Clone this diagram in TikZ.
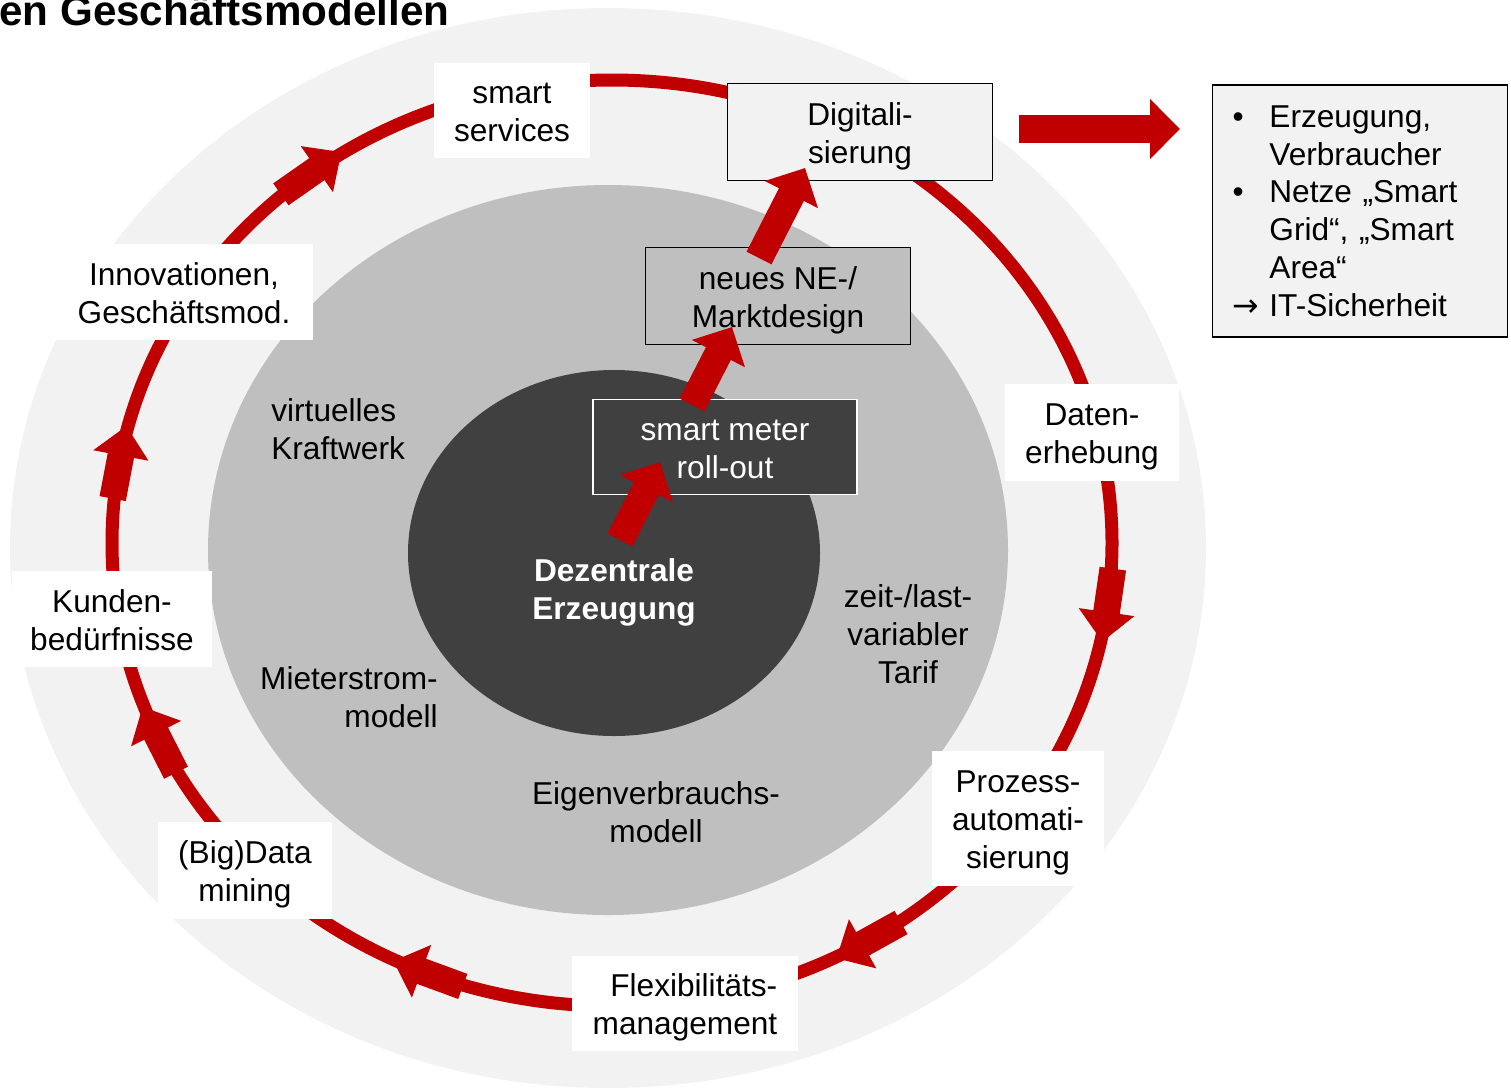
\documentclass[tikz,border=0pt]{standalone}
\usepackage{fontspec}
\setmainfont{Liberation Sans}
\newfontfamily\symbolschrift{DejaVu Sans}
\usetikzlibrary{arrows.meta,decorations.markings}
\definecolor{tured}{RGB}{192,0,0}
\definecolor{hellgrau}{RGB}{242,242,242}
\definecolor{mittelgrau}{RGB}{191,191,191}
\definecolor{dunkelgrau}{RGB}{64,64,64}
\newcommand{\ringspitze}{%
  \fill[tured] (-21pt,-7.6pt) rectangle (5pt,7.6pt);
  \fill[tured] (4pt,-16pt) -- (21pt,0pt) -- (4pt,16pt) -- cycle;}
\tikzset{
  schrift/.style={font=\fontsize{18pt}{21.5pt}\selectfont, align=center, inner sep=0pt},
  zeilen/.style={execute at begin node={\rule{0pt}{#1}},
                 execute at end node={\rule[-0.212em]{0pt}{0pt}}},
  zeilen/.default=39.5pt,
  feld/.style={schrift, zeilen, fill=white},
  kasten/.style={schrift, draw=black, line width=1pt},
  stufe/.style={kasten, zeilen},
  ringlinie/.style={tured, line width=7.4pt},
  pfeil/.style={tured, line width=15.9pt, -{Triangle[width=33pt,length=17pt]}},
}
\begin{document}
\begin{tikzpicture}[x=0.02cm, y=-0.02cm]
\useasboundingbox (0,0) rectangle (1511,1090);
% Kreise
\fill[hellgrau] (608,548) ellipse [x radius=598, y radius=540];
\fill[mittelgrau] (608,550) ellipse [x radius=400, y radius=365];
\fill[dunkelgrau] (614,553) ellipse [x radius=206, y radius=183];
% Kreislauf mit Pfeilen
\draw[ringlinie, postaction={decorate}, decoration={markings,
    mark=at position 0.0206 with {\ringspitze},
    mark=at position 0.1615 with {\ringspitze},
    mark=at position 0.3120 with {\ringspitze},
    mark=at position 0.4325 with {\ringspitze},
    mark=at position 0.5268 with {\ringspitze},
    mark=at position 0.6443 with {\ringspitze}}]
  (1112,543) arc[start angle=0, end angle=360, x radius=500, y radius=463] -- cycle;

\node[anchor=base west, inner sep=0pt, font=\bfseries\fontsize{24pt}{28pt}\selectfont] (titel) at (-1,25) {en Geschäftsmodellen};

% Felder auf dem Ring
\node[feld, minimum width=3.12cm, minimum height=1.90cm] (services) at (512,110) {smart\\services};
\node[feld, minimum width=5.16cm, minimum height=1.92cm] (innov) at (184,292) {Innovationen,\\Geschäftsmod.};
\node[feld, minimum width=4.02cm, minimum height=1.92cm] (kunden) at (112,619) {Kunden-\\bedürfnisse};
\node[feld, minimum width=3.48cm, minimum height=1.94cm] (bigdata) at (245,870) {(Big)Data\\mining};
\node[feld, align=right, minimum width=4.52cm, minimum height=1.90cm] (flex) at (685,1003) {Flexibilitäts-\\management};
\node[feld, zeilen=61pt, minimum width=3.46cm, minimum height=2.70cm] (prozess) at (1018,818) {Prozess-\\automati-\\sierung};
\node[feld, minimum width=3.50cm, minimum height=1.94cm] (daten) at (1092,432) {Daten-\\erhebung};

% Stufen
\node[stufe, fill=hellgrau, minimum width=5.30cm, minimum height=1.94cm] (digit) at (860,132) {Digitali-\\sierung};
\node[stufe, fill=mittelgrau, minimum width=5.30cm, minimum height=1.94cm] (markt) at (778,296) {neues NE-/\\Marktdesign};
\node[stufe, fill=dunkelgrau, draw=white, text=white, minimum width=5.28cm, minimum height=1.90cm] (zaehler) at (725,447) {smart meter\\roll-out};
\node[schrift, text=white, font=\bfseries\fontsize{18pt}{21.5pt}\selectfont] (kern) at (614,592) {Dezentrale\\Erzeugung};

% Geschaeftsmodelle
\node[schrift, align=left, anchor=west] (vkw) at (271,429) {virtuelles\\Kraftwerk};
\node[schrift, align=right, anchor=east] (mieter) at (438,697) {Mieterstrom-\\modell};
\node[schrift] (eigen) at (656,812) {Eigenverbrauchs-\\modell};
\node[schrift] (tarif) at (908,634) {zeit-/last-\\variabler\\Tarif};

% Liste rechts
\node[kasten, fill=hellgrau, align=left, text width=5.1cm, inner xsep=0.4cm, minimum height=5.04cm] (liste) at (1360,211)
  {\makebox[21pt][l]{\textbullet}Erzeugung,\\
   \hspace*{21pt}Verbraucher\\
   \makebox[21pt][l]{\textbullet}Netze „Smart\\
   \hspace*{21pt}Grid“, „Smart\\
   \hspace*{21pt}Area“\\
   \makebox[21pt][l]{\symbolschrift →}IT-Sicherheit};

% Pfeile
\coordinate (kern-aus) at (620,540);
\coordinate (zaehler-ein) at (660,462);
\coordinate (zaehler-aus) at (692,405);
\coordinate (markt-ein) at (732,327);
\coordinate (markt-aus) at (759,258);
\coordinate (digit-ein) at (805,168);
\coordinate (digit-aus) at (1019,129);
\coordinate (liste-ein) at (1180,129);
\draw[pfeil] (kern-aus) -- (zaehler-ein);
\draw[pfeil] (zaehler-aus) -- (markt-ein);
\draw[pfeil] (markt-aus) -- (digit-ein);
\draw[pfeil] (digit-aus) -- (liste-ein);
\end{tikzpicture}
\end{document}
